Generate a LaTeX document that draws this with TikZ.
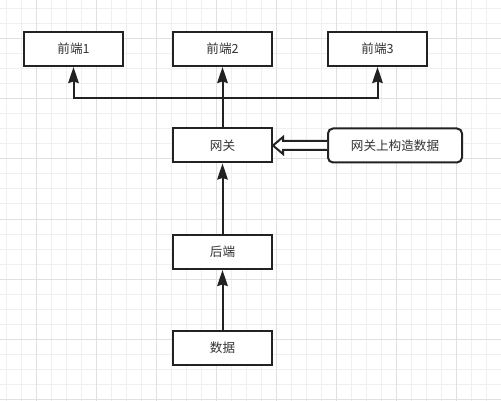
\documentclass[tikz,border=0pt]{standalone}
\usepackage{fontspec}
\setmainfont{Noto Sans CJK SC}
\usetikzlibrary{arrows.meta,calc}
\definecolor{ink}{HTML}{222222}
\definecolor{txt}{HTML}{333333}
\definecolor{gridminor}{HTML}{EFEFEF}
\definecolor{gridmajor}{HTML}{E0E0E0}
\begin{document}
\begin{tikzpicture}[x=1pt,y=-1pt,
  box/.style={draw=ink,line width=2pt,fill=white,minimum width=99pt,minimum height=34pt,inner sep=0pt,font=\fontsize{12.6pt}{14pt}\selectfont,text=txt},
  rbox/.style={box,rounded corners=5pt,minimum width=134pt},
  arr/.style={draw=ink,line width=2pt,-{Stealth[length=16pt,width=10.5pt,inset=1.5pt]}},
  flex/.style={draw=ink,line width=2pt,fill=white,line join=miter}]
\fill[white] (0,0) rectangle (501,401);
\useasboundingbox (0,0) rectangle (501,401);
\foreach \k in {0,...,32} \draw[gridminor,line width=1pt] (6.5+15*\k,0) -- (6.5+15*\k,401);
\foreach \k in {0,...,26} \draw[gridminor,line width=1pt] (0,9+15*\k) -- (501,9+15*\k);
\foreach \k in {0,...,7} \draw[gridmajor,line width=1pt] (36.5+60*\k,0) -- (36.5+60*\k,401);
\foreach \k in {0,...,6} \draw[gridmajor,line width=1pt] (0,39+60*\k) -- (501,39+60*\k);

\node[box] (f1) at (73.5,49) {前端1};
\node[box] (f2) at (222.5,49) {前端2};
\node[box] (f3) at (377.5,49) {前端3};
\node[box] (gw) at (222.5,145.5) {网关};
\node[rbox] (cs) at (395,145.5) {网关上构造数据};
\node[box] (be) at (222.5,252) {后端};
\node[box] (db) at (222.5,348) {数据};

\coordinate (bus) at (222.5,98);
\draw[draw=ink,line width=2pt] (gw.north) -- (bus);
\draw[arr] (bus) -| (f1.south);
\draw[arr] (bus) -| (f3.south);
\draw[arr] (bus) -- (f2.south);
\draw[arr] (be.north) -- (gw.south);
\draw[arr] (db.north) -- (be.south);

\draw[flex] ([yshift=4.5pt]cs.west) -- ([xshift=10pt,yshift=4.5pt]gw.east)
  -- ([xshift=10pt,yshift=8.5pt]gw.east) -- (gw.east)
  -- ([xshift=10pt,yshift=-8.5pt]gw.east) -- ([xshift=10pt,yshift=-4.5pt]gw.east)
  -- ([yshift=-4.5pt]cs.west);
\end{tikzpicture}
\end{document}
